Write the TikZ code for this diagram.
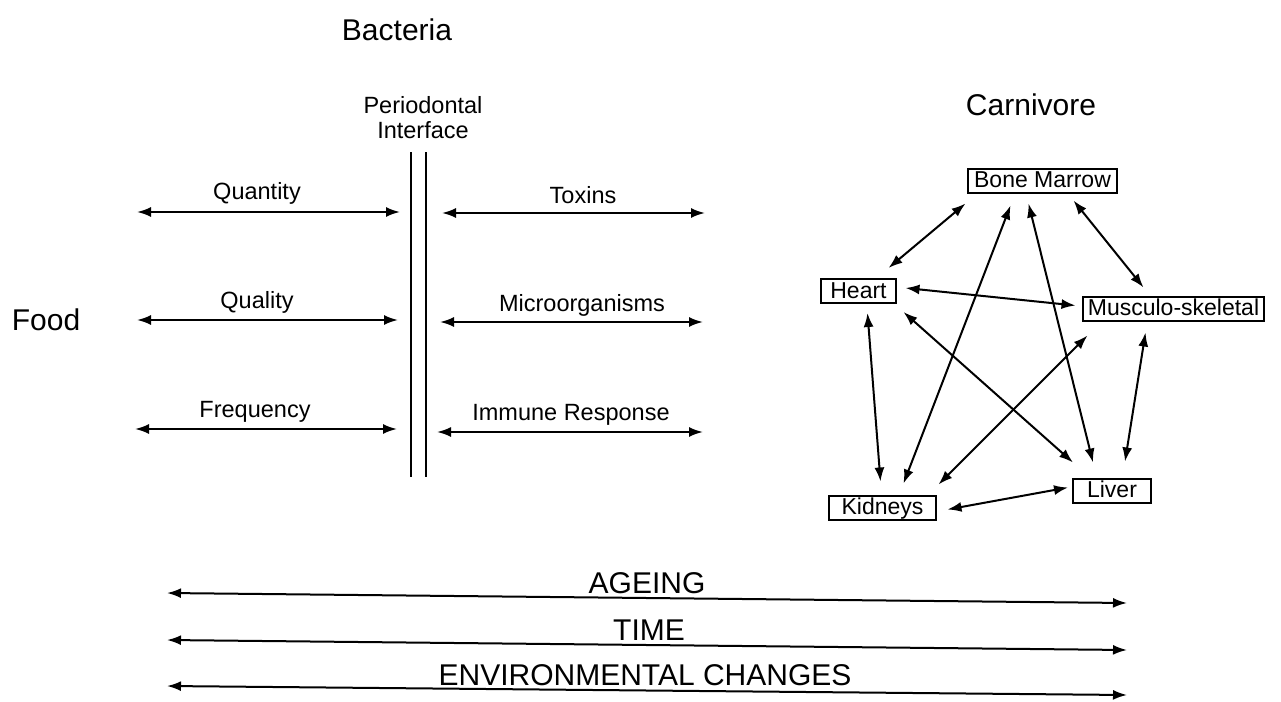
\documentclass[tikz,border=0pt]{standalone}
\usepackage{fontspec}
\setmainfont{Liberation Sans}
\usepackage{tikz}
\usetikzlibrary{arrows.meta, positioning}

\begin{document}
\begin{tikzpicture}[
    x=1pt, y=-1pt,
    >={Latex[length=14pt, width=10pt]},
    big/.style   = {font=\fontsize{30}{34}\selectfont, inner sep=0pt},
    lbl/.style   = {font=\fontsize{23.5}{25}\selectfont, inner sep=0pt, align=center},
    organ/.style = {rectangle, draw, line width=2pt, inner xsep=3pt, inner ysep=0pt,
                    text height=17.5pt, text depth=3pt, minimum height=24pt,
                    font=\fontsize{23}{27}\selectfont},
    dbl/.style   = {<->, line width=2pt},
    wall/.style  = {line width=2pt}
  ]
  \useasboundingbox[fill=white] (0,0) rectangle (1281,701);

  % ── Headings ─────────────────────────────────────────────────────────────
  \node[big] (bact) at (397, 30)  {Bacteria};
  \node[big] (carn) at (1031,105) {Carnivore};
  \node[big] (food) at (46, 320)  {Food};
  \node[lbl] (perio) at (423,118) {Periodontal\\Interface};

  % ── Periodontal interface (double wall) ──────────────────────────────────
  \draw[wall] (411,152) -- (411,477);
  \draw[wall] (426,152) -- (426,477);

  % ── Food side ────────────────────────────────────────────────────────────
  \coordinate (qtyL) at (137,212);  \coordinate (qtyR) at (400,212);
  \coordinate (qalL) at (137,320);  \coordinate (qalR) at (398,320);
  \coordinate (frqL) at (135,429);  \coordinate (frqR) at (397,429);
  \draw[dbl] (qtyL) -- (qtyR);
  \draw[dbl] (qalL) -- (qalR);
  \draw[dbl] (frqL) -- (frqR);
  \node[lbl] (qty) at (257,193) {Quantity};
  \node[lbl] (qal) at (257,302) {Quality};
  \node[lbl] (frq) at (255,412) {Frequency};

  % ── Bacteria side ────────────────────────────────────────────────────────
  \coordinate (toxL) at (442,213);  \coordinate (toxR) at (705,213);
  \coordinate (micL) at (440,322);  \coordinate (micR) at (703,322);
  \coordinate (immL) at (437,432);  \coordinate (immR) at (703,432);
  \draw[dbl] (toxL) -- (toxR);
  \draw[dbl] (micL) -- (micR);
  \draw[dbl] (immL) -- (immR);
  \node[lbl] (tox) at (583,195) {Toxins};
  \node[lbl] (mic) at (582,305) {Microorganisms};
  \node[lbl] (imm) at (571,415) {Immune Response};

  % ── Carnivore organs ──────────────────────────────────────────────────────
  \node[organ, minimum width=149pt] (bm)    at (1042.5,180.5) {Bone Marrow};
  \node[organ, minimum width=75pt]  (heart) at (858.5,291)    {Heart};
  \node[organ, minimum width=181pt] (ms)    at (1173.5,308.5) {Musculo-skeletal};
  \node[organ, minimum width=78pt]  (liv)   at (1112,490.5)   {Liver};
  \node[organ, minimum width=107pt] (kid)   at (882.5,507.5)  {Kidneys};

  \draw[dbl] ([shift={(-77,23)}]bm.center)   -- ([shift={(30,-23)}]heart.center);
  \draw[dbl] ([shift={(-32,25)}]bm.center)   -- ([shift={(21,-24)}]kid.center);
  \draw[dbl] ([shift={(-14,23)}]bm.center)   -- ([shift={(-19,-28)}]liv.center);
  \draw[dbl] ([shift={(31,20)}]bm.center)    -- ([shift={(-30,-21)}]ms.center);
  \draw[dbl] ([shift={(47,-3)}]heart.center) -- ([shift={(-98,-3)}]ms.center);
  \draw[dbl] ([shift={(45,21)}]heart.center) -- ([shift={(-39,-28)}]liv.center);
  \draw[dbl] ([shift={(9,22)}]heart.center)  -- ([shift={(-2,-26)}]kid.center);
  \draw[dbl] ([shift={(-86,27)}]ms.center)   -- ([shift={(56,-23)}]kid.center);
  \draw[dbl] ([shift={(-28,24)}]ms.center)   -- ([shift={(13,-29)}]liv.center);
  \draw[dbl] ([shift={(65,2)}]kid.center)    -- ([shift={(-44,-3)}]liv.center);

  % ── Long-term influences ─────────────────────────────────────────────────
  \coordinate (ageL) at (167,593);  \coordinate (ageR) at (1127,603);
  \coordinate (timL) at (167,640);  \coordinate (timR) at (1127,650);
  \coordinate (envL) at (167,686);  \coordinate (envR) at (1127,695);
  \draw[dbl] (ageL) -- (ageR);
  \draw[dbl] (timL) -- (timR);
  \draw[dbl] (envL) -- (envR);
  \node[big] (age) at (647,583) {AGEING};
  \node[big] (tim) at (649,630) {TIME};
  \node[big] (env) at (645,675) {ENVIRONMENTAL CHANGES};
\end{tikzpicture}
\end{document}
